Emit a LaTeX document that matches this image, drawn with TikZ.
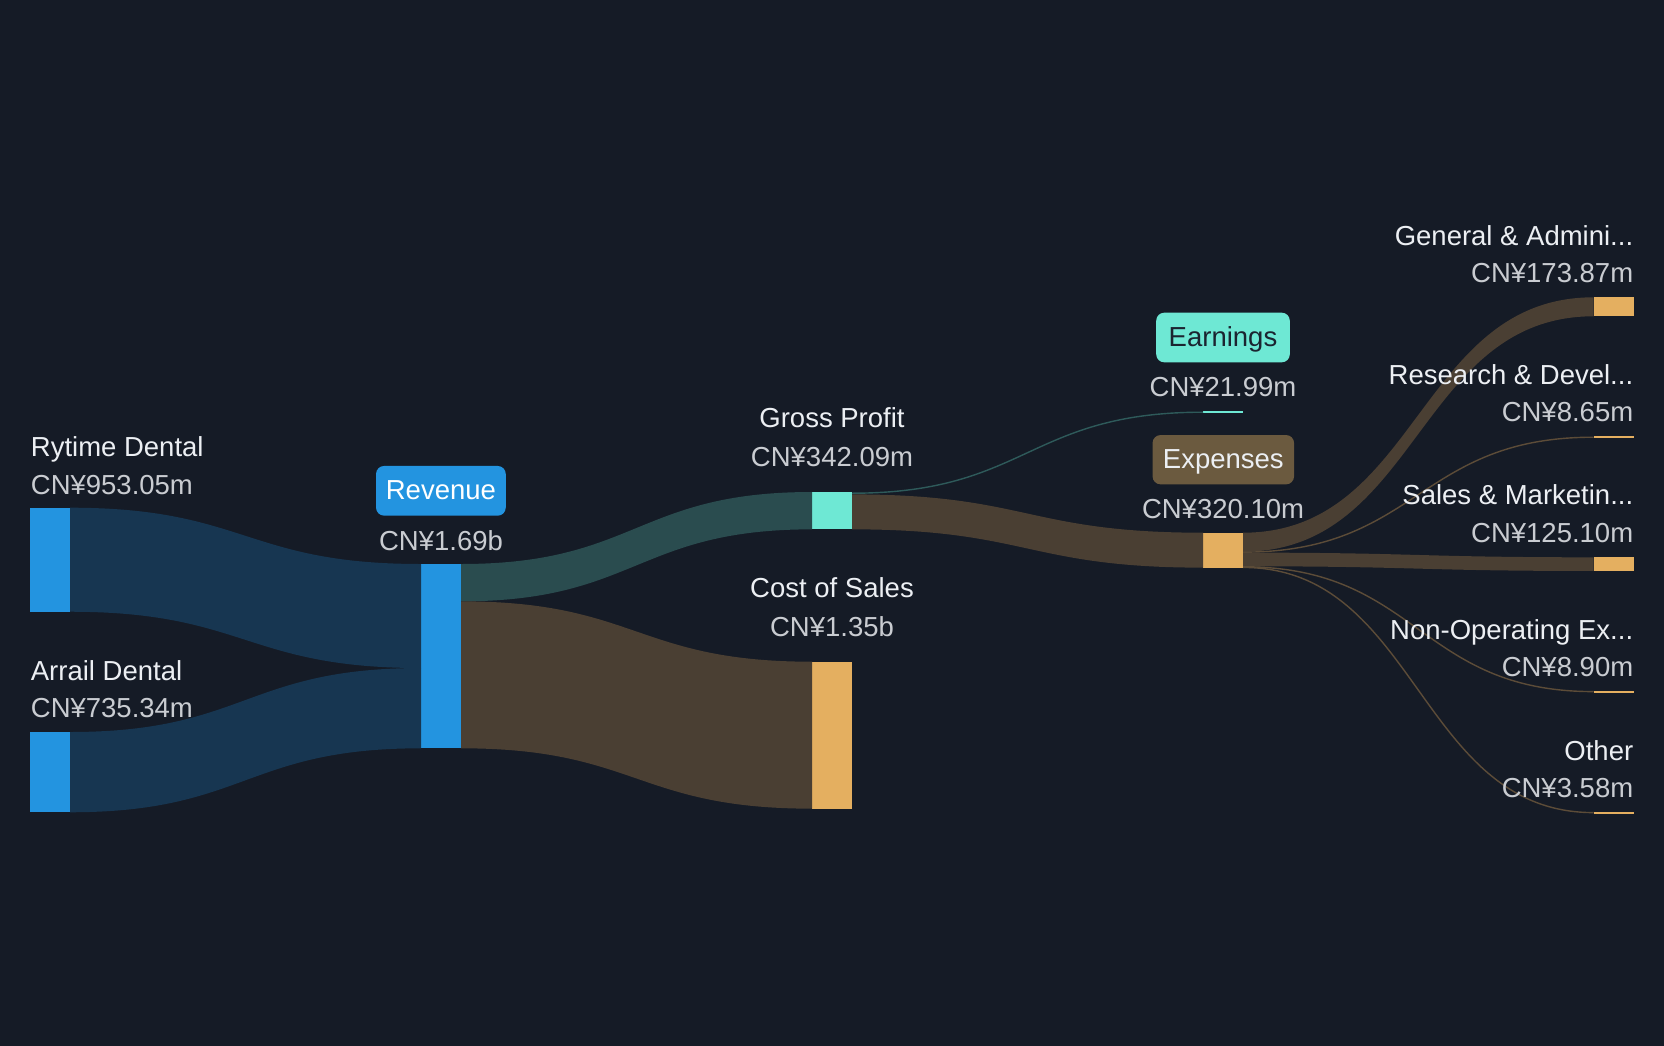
\documentclass[tikz,border=0pt]{standalone}
\usepackage{fontspec}
\setmainfont{Liberation Sans}
\usetikzlibrary{calc}
\definecolor{bg}{RGB}{21,27,38}
\definecolor{bluen}{RGB}{35,148,224}
\definecolor{bluef}{RGB}{23,54,81}
\definecolor{tealn}{RGB}{110,232,212}
\definecolor{tealf}{RGB}{42,76,79}
\definecolor{tealline}{RGB}{46,90,90}
\definecolor{orn}{RGB}{228,175,96}
\definecolor{brf}{RGB}{74,63,51}
\definecolor{brline}{RGB}{92,76,56}
\definecolor{expbox}{RGB}{107,90,63}
\definecolor{labc}{RGB}{236,239,243}
\definecolor{valc}{RGB}{201,204,209}
\definecolor{darktext}{RGB}{27,36,48}
\newcommand\sflow[6]{\fill[#6] let \p1=(#1.north east), \p2=(#3.north west), \n1={(\x1+\x2)/2} in
  (\x1,\y1-#2pt) .. controls (\n1,\y1-#2pt) and (\n1,\y2-#4pt) .. (\x2,\y2-#4pt)
  -- (\x2,\y2-#4pt-#5pt) .. controls (\n1,\y2-#4pt-#5pt) and (\n1,\y1-#2pt-#5pt) .. (\x1,\y1-#2pt-#5pt) -- cycle;}
\newcommand\sline[5]{\draw[#5, line width=1.4pt] let \p1=(#1.north east), \p2=(#3.north west), \n1={(\x1+\x2)/2} in
  (\x1,\y1-#2pt) .. controls (\n1,\y1-#2pt) and (\n1,\y2-#4pt) .. (\x2,\y2-#4pt);}
\tikzset{
  bar/.style={rectangle, inner sep=0pt, outer sep=0pt, minimum width=40pt, anchor=north west},
  lab/.style={font=\fontsize{27.5}{32}\selectfont, text=labc, inner sep=0pt},
  val/.style={font=\fontsize{27.5}{32}\selectfont, text=valc, inner sep=0pt},
  tagbox/.style={rectangle, rounded corners=8pt, inner sep=0pt, text height=17pt, text depth=0pt,
     font=\fontsize{27.5}{32}\selectfont}
}
\begin{document}
\begin{tikzpicture}[x=1pt,y=-1pt]
\fill[bg] (0,0) rectangle (1664,1046);
\useasboundingbox (0,0) rectangle (1664,1046);
% bars
\node[bar, fill=bluen, minimum height=104.03pt] (ry) at (30,507.7) {};
\node[bar, fill=bluen, minimum height=80.27pt] (ar) at (30,732) {};
\node[bar, fill=bluen, minimum height=184.3pt] (rev) at (421,564) {};
\node[bar, fill=tealn, minimum height=37.34pt] (gp) at (812,492) {};
\node[bar, fill=orn, minimum height=146.96pt] (cos) at (812,661.7) {};
\node[bar, fill=tealn, minimum height=2.4pt] (earn) at (1203,411) {};
\node[bar, fill=orn, minimum height=34.94pt] (exp) at (1203,532.7) {};
\node[bar, fill=orn, minimum height=18.98pt] (ga) at (1593.5,297.3) {};
\node[bar, fill=orn, minimum height=2pt] (rd) at (1593.5,436.2) {};
\node[bar, fill=orn, minimum height=13.66pt] (sm) at (1593.5,557.3) {};
\node[bar, fill=orn, minimum height=2pt] (no) at (1593.5,690.6) {};
\node[bar, fill=orn, minimum height=2pt] (ot) at (1593.5,811.6) {};
% flows
\sflow{ry}{0}{rev}{0}{104.03}{bluef}
\sflow{ar}{0}{rev}{104.03}{80.27}{bluef}
\sflow{rev}{0}{gp}{0}{37.34}{tealf}
\sflow{rev}{37.34}{cos}{0}{146.96}{brf}
\sline{gp}{1.2}{earn}{1.2}{tealline}
\sflow{gp}{2.4}{exp}{0}{34.94}{brf}
\sflow{exp}{0}{ga}{0}{18.98}{brf}
\sline{exp}{19.45}{rd}{1}{brline}
\sflow{exp}{19.92}{sm}{0}{13.66}{brf}
\sline{exp}{34.06}{no}{1}{brline}
\sline{exp}{34.74}{ot}{1}{brline}
% labels
\node[lab, anchor=base west] (ryl) at (30.7,456.7) {Rytime Dental};
\node[val, anchor=base west] (ryv) at (30.7,494.3) {CN¥953.05m};
\node[lab, anchor=base west] (arl) at (30.7,680) {Arrail Dental};
\node[val, anchor=base west] (arv) at (30.7,717.7) {CN¥735.34m};
\node[tagbox, fill=bluen, text=white, minimum width=129.7pt, minimum height=49.7pt] (revl) at (440.9,490.8) {Revenue};
\node[val, anchor=base] (revv) at (441,550) {CN¥1.69b};
\node[lab, anchor=base] (gpl) at (832,427.7) {Gross Profit};
\node[val, anchor=base] (gpv) at (832,466) {CN¥342.09m};
\node[lab, anchor=base] (cosl) at (832,597.7) {Cost of Sales};
\node[val, anchor=base] (cosv) at (832,636) {CN¥1.35b};
\node[tagbox, fill=tealn, text=darktext, minimum width=133.6pt, minimum height=49.6pt] (earnl) at (1223,337.5) {Earnings};
\node[val, anchor=base] (earnv) at (1223,396.7) {CN¥21.99m};
\node[tagbox, fill=expbox, text=labc, minimum width=141.5pt, minimum height=49.3pt] (expl) at (1223.3,459.7) {Expenses};
\node[val, anchor=base] (expv) at (1223,518.3) {CN¥320.10m};
\node[lab, anchor=base east] (gal) at (1633.4,245.7) {General \& Admini...};
\node[val, anchor=base east] (gav) at (1633.4,282.3) {CN¥173.87m};
\node[lab, anchor=base east] (rdl) at (1633.4,384.3) {Research \& Devel...};
\node[val, anchor=base east] (rdv) at (1633.4,421) {CN¥8.65m};
\node[lab, anchor=base east] (sml) at (1633.4,504.3) {Sales \& Marketin...};
\node[val, anchor=base east] (smv) at (1633.4,542.3) {CN¥125.10m};
\node[lab, anchor=base east] (nol) at (1633.4,639) {Non-Operating Ex...};
\node[val, anchor=base east] (nov) at (1633.4,676.7) {CN¥8.90m};
\node[lab, anchor=base east] (otl) at (1633.4,760) {Other};
\node[val, anchor=base east] (otv) at (1633.4,797.7) {CN¥3.58m};
\end{tikzpicture}
\end{document}
